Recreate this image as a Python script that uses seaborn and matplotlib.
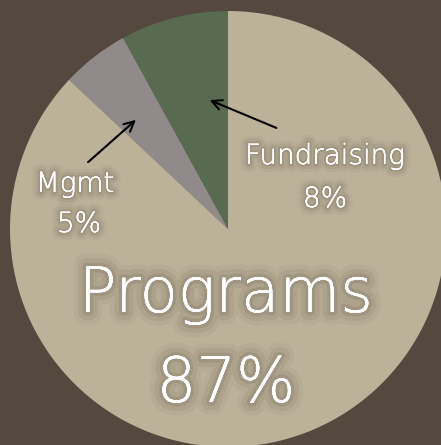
import matplotlib.pyplot as plt
import matplotlib.patheffects as pe
import seaborn as sns

# slices in drawing order, counter-clockwise from 12 o'clock
labels = ["Fundraising", "Mgmt", "Programs"]
shares = [8, 5, 87]
colors = ["#586a4f", "#908a8b", "#bcb29a"]
bg = "#54483f"

sns.set_theme(style="white")
plt.rcParams['font.family'] = ['DejaVu Sans']

fig = plt.figure(figsize=(4.41, 4.45), dpi=100, facecolor=bg)
ax = fig.add_axes([0, 0, 1, 1])
ax.set_facecolor(bg)

# pie in pixel-like data space (y up)
H = 445
ax.pie(shares, colors=colors, startangle=90, counterclock=True,
       center=(228, H - 229), radius=218,
       wedgeprops=dict(linewidth=0))
ax.set_xlim(0, 441)
ax.set_ylim(0, H)
ax.set_aspect("equal")
ax.axis("off")

shade = (0.28, 0.23, 0.18)


def glow(scale):
    return [pe.withStroke(linewidth=14 * scale, foreground=shade + (0.05,)),
            pe.withStroke(linewidth=9 * scale, foreground=shade + (0.08,)),
            pe.withStroke(linewidth=4 * scale, foreground=shade + (0.12,)),
            pe.Normal()]


def label(x, y, s, size, scale):
    ax.text(x, H - y, s, ha="center", va="center", color="white",
            fontsize=size, fontweight="light", path_effects=glow(scale))


label(226, 295, "Programs", 45, 1.3)
label(226, 385, "87%", 45, 1.3)
label(325, 156, "Fundraising", 20, 0.8)
label(325, 199, "8%", 20, 0.8)
label(75, 184, "Mgmt", 20, 0.8)
label(79, 224, "5%", 20, 0.8)

arrow = dict(arrowstyle="->", color="black", lw=1.5, mutation_scale=18)
ax.annotate("", xy=(138, H - 118), xytext=(86, H - 164), arrowprops=arrow)
ax.annotate("", xy=(207, H - 99), xytext=(279, H - 129), arrowprops=arrow)

fig.savefig("out.png", dpi=100, facecolor=bg)
